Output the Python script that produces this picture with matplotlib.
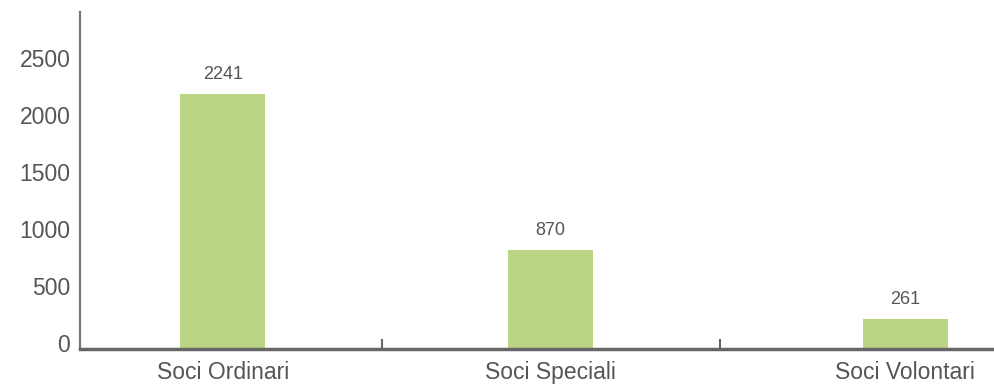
import matplotlib.pyplot as plt
import matplotlib.transforms as mtransforms

categories = ["Soci Ordinari", "Soci Speciali", "Soci Volontari"]
values = [2241, 870, 261]
yticks = [0, 500, 1000, 1500, 2000, 2500]

# bar centres along the category axis (last group sits slightly further right)
positions = [0, 1, 2.085]
separators = [0.486, 1.52]
bar_color = "#bad585"
axis_color = "#666666"
text_color = "#555555"

plt.rcParams['font.family'] = ['Liberation Sans', 'DejaVu Sans']

fig = plt.figure(figsize=(9.95, 3.86), dpi=100)
ax = fig.add_axes([0.0804, 0.0959, 0.9196, 0.873])

ax.bar(positions, values, width=0.26, color=bar_color, zorder=2)

for x, v in zip(positions, values):
    ax.annotate(str(v), (x, v), xytext=(0, 11), textcoords='offset pixels',
                ha='center', va='bottom', fontsize=13, color=text_color)

ax.set_xlim(-0.437, 2.36)
ax.set_ylim(0, 2960)

# y labels sit a little above their gridline positions
ax.set_yticks(yticks)
ax.set_yticklabels([str(t) for t in yticks], fontsize=16.5, color=text_color)
ax.tick_params(axis='y', length=0, pad=7)
offset = mtransforms.ScaledTranslation(0, 6 / 100, fig.dpi_scale_trans)
for lab in ax.get_yticklabels():
    lab.set_transform(lab.get_transform() + offset)

ax.set_xticks(positions)
ax.set_xticklabels(categories, fontsize=16.5, color=text_color)
ax.tick_params(axis='x', which='major', length=0, pad=9)

# small separators between the groups
ax.set_xticks(separators, minor=True)
ax.tick_params(axis='x', which='minor', direction='in', length=7,
               width=1.5, color=axis_color)

for side in ['top', 'right']:
    ax.spines[side].set_visible(False)
ax.spines['left'].set_color("#777777")
ax.spines['left'].set_linewidth(1.6)
ax.spines['bottom'].set_color(axis_color)
ax.spines['bottom'].set_linewidth(2.5)

fig.savefig("out.png", dpi=100)
